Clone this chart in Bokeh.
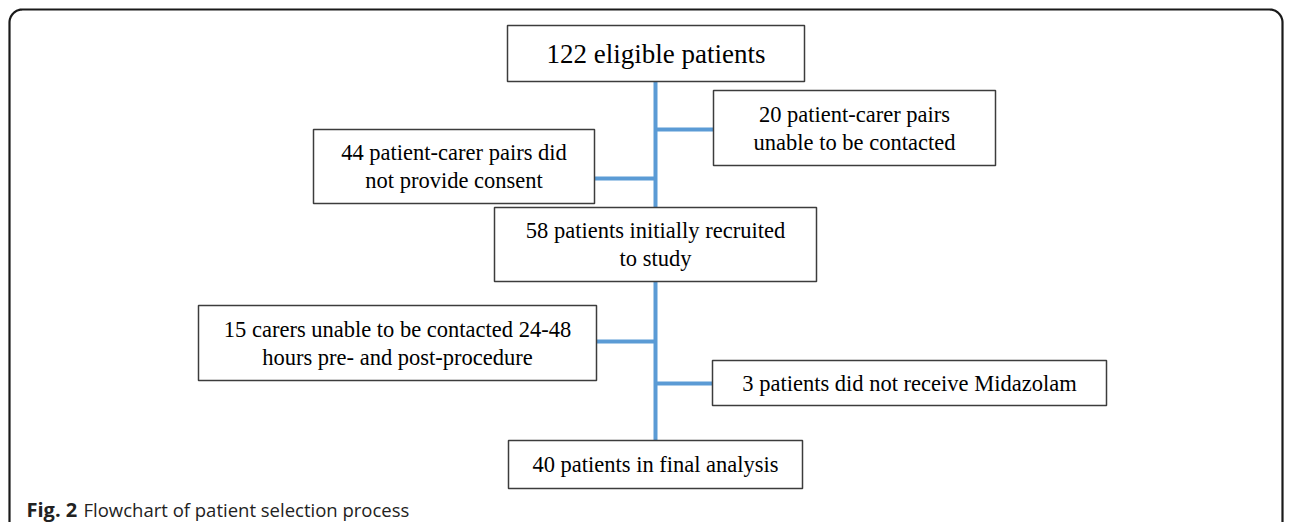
import numpy as np
from bokeh.plotting import figure
from bokeh.models import Range1d
from bokeh.core.properties import value
from bokeh.embed import file_html
from bokeh.resources import INLINE

# ---- content ----
box_lines = [
    ["122 eligible patients"],
    ["20 patient-carer pairs", "unable to be contacted"],
    ["44 patient-carer pairs did", "not provide consent"],
    ["58 patients initially recruited", "to study"],
    ["15 carers unable to be contacted 24-48", "hours pre- and post-procedure"],
    ["3 patients did not receive Midazolam"],
    ["40 patients in final analysis"],
]
caption_bold = "Fig. 2"
caption_text = "Flowchart of patient selection process"

# ---- layout (picture pixel coordinates) ----
box_left = [507, 713, 313, 494, 198, 712, 508]
box_right = [804, 995, 594, 816, 596, 1106, 802]
box_top = [25, 90, 129, 207, 305, 360, 440]
box_bottom = [81, 165, 203, 281, 380, 405, 488]
box_font = ["27px", "22.5px", "22.5px", "22.5px", "22.5px", "22.5px", "22.5px"]
line_gap = 28

spine_x = 655
v_seg_y0 = [81, 281]
v_seg_y1 = [207, 440]
h_seg_x0 = [655, 594, 596, 655]
h_seg_x1 = [713, 655, 655, 712]
h_seg_y = [129, 178, 341, 383]

W, H = 1284, 522
p = figure(width=W, height=H, output_backend="svg", toolbar_location=None,
           x_range=Range1d(0, W), y_range=Range1d(H, 0),
           min_border=0)
p.axis.visible = False
p.grid.visible = False
p.outline_line_color = None
p.background_fill_color = "white"
p.border_fill_color = "white"

# outer frame: rounded top corners, sides running off the bottom
r = 13
L, R, T, B = 9, 1282, 9, 560
t1 = np.linspace(np.pi, 1.5 * np.pi, 20)
t2 = np.linspace(1.5 * np.pi, 2 * np.pi, 20)
fx = [L] + list(L + r + r * np.cos(t1)) + list(R - r + r * np.cos(t2)) + [R]
fy = [B] + list(T + r + r * np.sin(t1)) + list(T + r + r * np.sin(t2)) + [B]
p.line(fx, fy, line_color="#1a1a1a", line_width=2.2)

# blue connectors
blue = "#5B9BD5"
p.segment(x0=[spine_x] * 2, y0=v_seg_y0, x1=[spine_x] * 2, y1=v_seg_y1,
          line_color=blue, line_width=4)
p.segment(x0=h_seg_x0, y0=h_seg_y, x1=h_seg_x1, y1=h_seg_y,
          line_color=blue, line_width=4)

# boxes
p.quad(left=box_left, right=box_right, top=box_top, bottom=box_bottom,
       fill_color="white", line_color="#3c3c3c", line_width=1.5)

# box texts
tx, ty, tt, tf = [], [], [], []
for i, lines in enumerate(box_lines):
    cx = (box_left[i] + box_right[i]) / 2
    cy = (box_top[i] + box_bottom[i]) / 2
    n = len(lines)
    for j, s in enumerate(lines):
        tx.append(cx)
        ty.append(cy + (j - (n - 1) / 2) * line_gap)
        tt.append(s)
        tf.append(box_font[i])
p.text(x=tx, y=ty, text=tt, text_font_size=tf,
       text_font=value("Liberation Serif"), text_color="black",
       text_align="center", text_baseline="middle")

# caption
p.text(x=[26], y=[509], text=[caption_bold], text_font=value("Open Sans"),
       text_font_style="bold", text_font_size="20px", text_color="#222222",
       text_align="left", text_baseline="middle")
p.text(x=[83], y=[509], text=[caption_text], text_font=value("Open Sans"),
       text_font_size="18.5px", text_color="#222222",
       text_align="left", text_baseline="middle")

open("out.html", "w").write(file_html(p, INLINE))
